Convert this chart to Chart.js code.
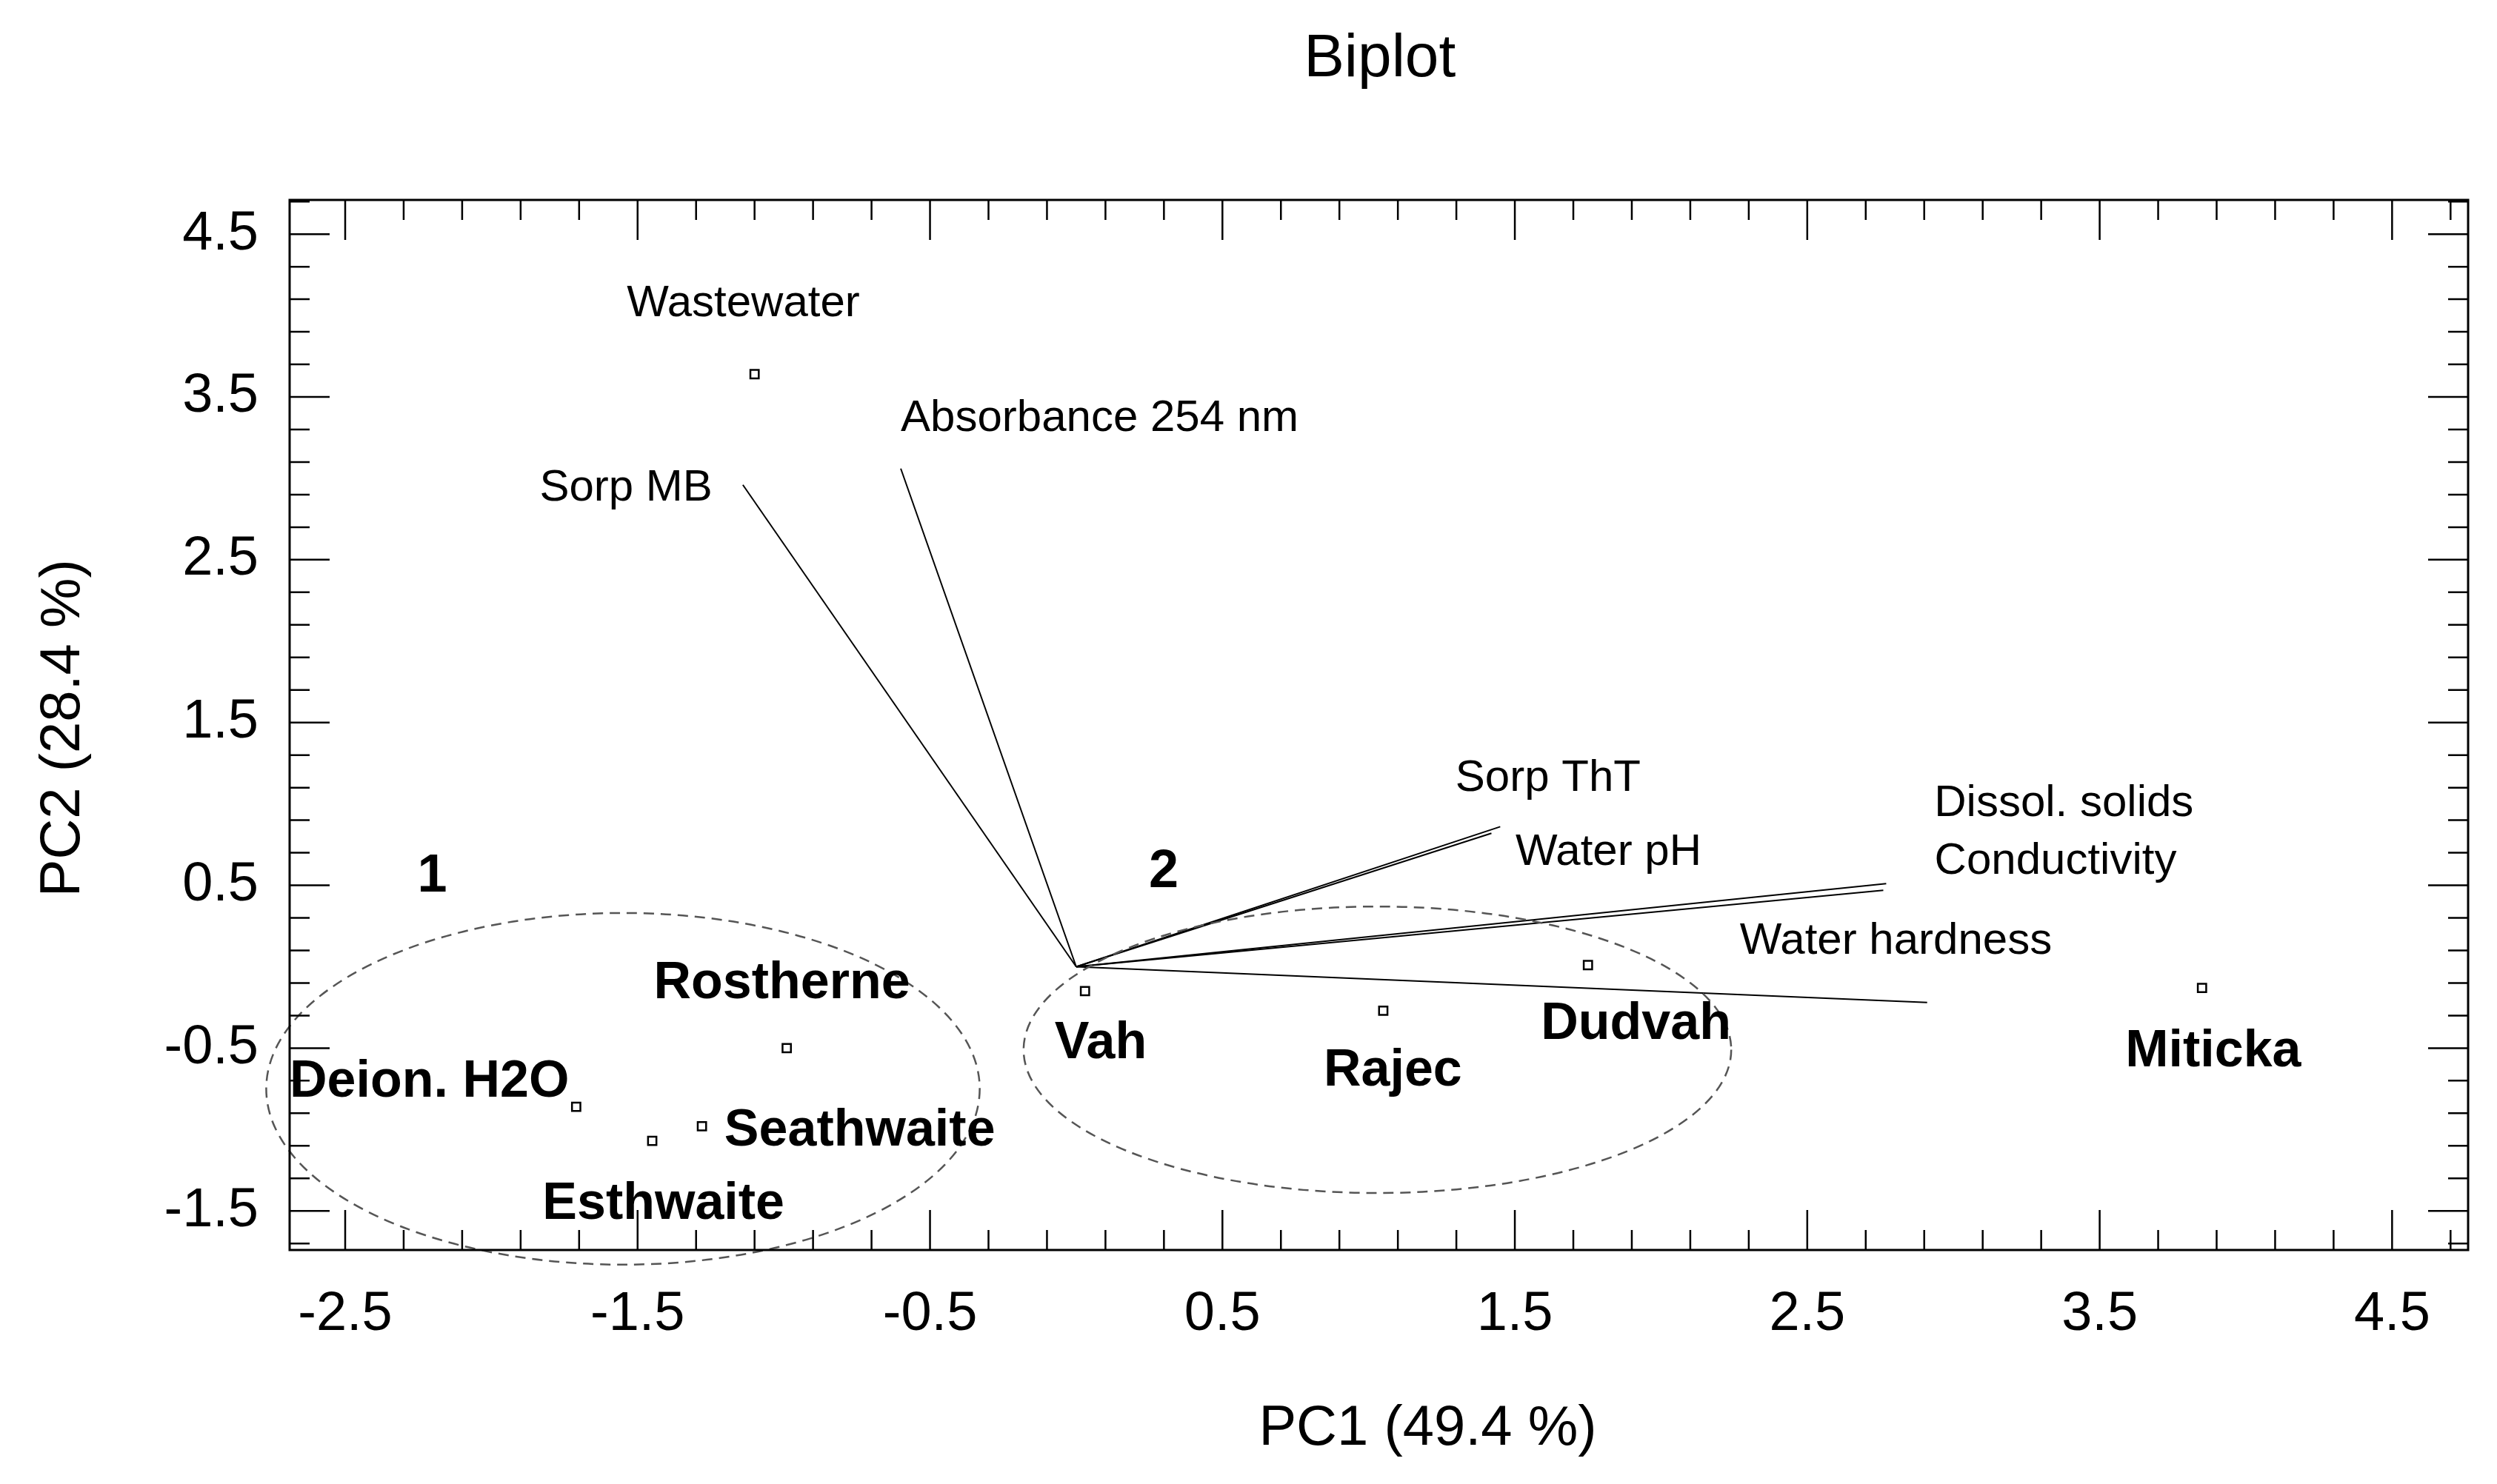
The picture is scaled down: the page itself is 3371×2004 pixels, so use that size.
<!DOCTYPE html>
<html>
<head>
<meta charset="utf-8">
<script src="https://cdn.jsdelivr.net/npm/chart.js@4"></script>
<style>
  html, body { margin: 0; padding: 0; background: #fff; }
  #wrap { width: 3371px; height: 2004px; }
</style>
</head>
<body>
<div id="wrap"><canvas id="c" width="3371" height="2004"></canvas></div>
<script>
// samples (scores)
const sampleNames = ['Wastewater', 'Deion. H2O', 'Esthwaite', 'Seathwaite', 'Rostherne', 'Vah', 'Rajec', 'Dudvah', 'Miticka']
const sampleX = [-1.10, -1.71, -1.45, -1.28, -0.99, 0.03, 1.05, 1.75, 3.85]
const sampleY = [3.64, -0.86, -1.07, -0.98, -0.50, -0.15, -0.27, 0.01, -0.13]

// variables (loadings), drawn from origin
const varNames = ['Sorp MB', 'Absorbance 254 nm', 'Sorp ThT', 'Water pH', 'Dissol. solids', 'Conductivity', 'Water hardness']
const varX = [-1.14, -0.60, 1.45, 1.42, 2.77, 2.76, 2.91]
const varY = [2.96, 3.06, 0.86, 0.82, 0.51, 0.47, -0.22]

// cluster ellipses
const groupNames = ['1', '2']
const groupCX = [-1.55, 1.03]
const groupCY = [-0.75, -0.51]
const groupRX = [1.22, 1.21]
const groupRY = [1.08, 0.88]

const xTicks = ['-2.5', '-1.5', '-0.5', '0.5', '1.5', '2.5', '3.5', '4.5']
const yTicks = ['-1.5', '-0.5', '0.5', '1.5', '2.5', '3.5', '4.5']

const S = 3371 / 1560 // reference display scale

//hvor teksterne står i forhold til punkterne (pixel offsets in display units)
const sampleLabelPos = [
  [-7, -44, 'center'], [-179, -15, 'left'], [7, 40, 'center'], [14, 3, 'left'], [-3, -40, 'center'],
  [-19, 33, 'left'], [6, 38, 'center'], [30, 37, 'center'], [7, 40, 'center']
]
const varLabelPos = [
  [-19, 2, 'right'], [0, -31, 'left'], [-28, -30, 'left'], [15, 12, 'left'], [30, -50, 'left'], [32, -18, 'left'], [-117, -38, 'left']
]

const datasets = []
varNames.forEach((name, i) => {
  datasets.push({
    label: name, type: 'line', showLine: true,
    data: [{ x: 0, y: 0 }, { x: varX[i], y: varY[i] }],
    borderColor: '#000', borderWidth: 2, pointRadius: 0
  })
})
datasets.push({
  label: 'samples', type: 'scatter',
  data: sampleX.map((x, i) => ({ x: x, y: sampleY[i] })),
  pointStyle: 'rect', pointRadius: 8, borderColor: '#000', borderWidth: 2.5, backgroundColor: '#fff'
})

const frame = {
  id: 'frame',
  afterDatasetsDraw(chart) {
    const ctx = chart.ctx
    const a = chart.chartArea
    const xs = chart.scales.x, ys = chart.scales.y
    ctx.save()
    // ellipses
    ctx.strokeStyle = '#555'
    ctx.lineWidth = 2.5
    ctx.setLineDash([14, 9])
    groupNames.forEach((g, i) => {
      const cx = xs.getPixelForValue(groupCX[i]), cy = ys.getPixelForValue(groupCY[i])
      const rx = Math.abs(xs.getPixelForValue(groupCX[i] + groupRX[i]) - cx)
      const ry = Math.abs(ys.getPixelForValue(groupCY[i] + groupRY[i]) - cy)
      ctx.beginPath()
      ctx.ellipse(cx, cy, rx, ry, 0, 0, Math.PI * 2)
      ctx.stroke()
    })
    ctx.setLineDash([])
    // frame and inward ticks
    ctx.strokeStyle = '#000'
    ctx.lineWidth = 3
    ctx.strokeRect(a.left, a.top, a.right - a.left, a.bottom - a.top)
    ctx.lineWidth = 2.5
    const isMajor = v => { const r = ((v + 0.5) % 1 + 1) % 1; return r < 1e-6 || r > 1 - 1e-6 }
    xs.ticks.forEach(t => {
      const px = xs.getPixelForValue(t.value)
      const len = isMajor(t.value) ? 54 : 27
      ctx.beginPath()
      ctx.moveTo(px, a.bottom); ctx.lineTo(px, a.bottom - len)
      ctx.moveTo(px, a.top); ctx.lineTo(px, a.top + len)
      ctx.stroke()
    })
    ys.ticks.forEach(t => {
      const py = ys.getPixelForValue(t.value)
      const len = isMajor(t.value) ? 54 : 27
      ctx.beginPath()
      ctx.moveTo(a.left, py); ctx.lineTo(a.left + len, py)
      ctx.moveTo(a.right, py); ctx.lineTo(a.right - len, py)
      ctx.stroke()
    })
    // tick labels
    ctx.fillStyle = '#000'
    ctx.font = '74px Arial, "Liberation Sans", sans-serif'
    ctx.textAlign = 'center'
    ctx.textBaseline = 'middle'
    xTicks.forEach(l => ctx.fillText(l, xs.getPixelForValue(parseFloat(l)), a.bottom + 88))
    ctx.textAlign = 'right'
    yTicks.forEach(l => ctx.fillText(l, a.left - 42, ys.getPixelForValue(parseFloat(l))))
    // titles
    ctx.textAlign = 'center'
    ctx.font = '82px Arial, "Liberation Sans", sans-serif'
    ctx.fillText('Biplot', 862 * S, 37 * S)
    ctx.font = '76px Arial, "Liberation Sans", sans-serif'
    ctx.fillText('PC1 (49.4 %)', 892 * S, 893 * S)
    ctx.save()
    ctx.translate(40 * S, 455 * S)
    ctx.rotate(-Math.PI / 2)
    ctx.fillText('PC2 (28.4 %)', 0, 0)
    ctx.restore()
    // variable labels
    ctx.font = '60px Arial, "Liberation Sans", sans-serif'
    varNames.forEach((n, i) => {
      const p = varLabelPos[i]
      ctx.textAlign = p[2]
      ctx.fillText(n, xs.getPixelForValue(varX[i]) + p[0] * S, ys.getPixelForValue(varY[i]) + p[1] * S)
    })
    ctx.textAlign = 'center'
    ctx.fillText('Wastewater', xs.getPixelForValue(sampleX[0]) - 7 * S, ys.getPixelForValue(sampleY[0]) - 44 * S)
    // sample labels
    ctx.font = 'bold 70px "Liberation Sans Narrow", "Arial Narrow", Arial, sans-serif'
    sampleNames.forEach((n, i) => {
      if (i === 0) return
      const p = sampleLabelPos[i]
      ctx.textAlign = p[2]
      ctx.fillText(n, xs.getPixelForValue(sampleX[i]) + p[0] * S, ys.getPixelForValue(sampleY[i]) + p[1] * S)
    })
    // group numbers
    ctx.textAlign = 'center'
    ctx.font = 'bold 72px Arial, "Liberation Sans", sans-serif'
    ctx.fillText('1', 270 * S, 548 * S)
    ctx.fillText('2', 727 * S, 545 * S)
    ctx.restore()
  }
}

const stepTicks = (from, to) => scale => {
  const t = []
  for (let k = 0; from + k * 0.2 <= to + 1e-9; k++) t.push({ value: Math.round((from + k * 0.2) * 10) / 10 })
  scale.ticks = t
}

new Chart(document.getElementById('c'), {
  type: 'scatter',
  data: { datasets: datasets },
  options: {
    responsive: false,
    animation: false,
    devicePixelRatio: 1,
    layout: { padding: { left: 391, right: 39, top: 270, bottom: 316 } },
    plugins: { legend: { display: false }, tooltip: { enabled: false } },
    scales: {
      x: {
        type: 'linear', min: -2.69, max: 4.76,
        afterBuildTicks: stepTicks(-2.5, 4.7),
        afterFit: s => { s.height = 0 },
        ticks: { display: false }, grid: { display: false }, border: { display: false }
      },
      y: {
        type: 'linear', min: -1.74, max: 4.71,
        afterBuildTicks: stepTicks(-1.7, 4.7),
        afterFit: s => { s.width = 0 },
        ticks: { display: false }, grid: { display: false }, border: { display: false }
      }
    }
  },
  plugins: [frame]
})
</script>
</body>
</html>
